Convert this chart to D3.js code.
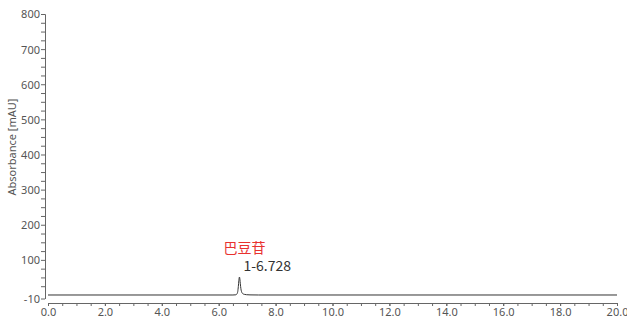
<!DOCTYPE html>
<meta charset="utf-8">
<style>
body { margin: 0; background: #fff; }
.tick text { font: 11px "Noto Sans", sans-serif; fill: #555; }
.axis path, .axis line { stroke: #666; }
.trace { fill: none; stroke: #333; stroke-width: 1px; }
</style>
<body>
<div id="main"></div>
<script src="https://d3js.org/d3.v7.min.js"></script>
<script>
// chromatogram points (time in min, absorbance in mAU)
var times = [0, 6.50, 6.60, 6.64, 6.67, 6.69, 6.71, 6.728, 6.745, 6.76, 6.78, 6.81, 6.85, 6.90, 6.98, 7.10, 7.40, 20];
var values = [0, 0, 0.5, 3, 10, 24, 42, 51, 45, 32, 18, 8, 3.5, 1.8, 0.8, 0.3, 0, 0];
var yTicks = [-10, 100, 200, 300, 400, 500, 600, 700, 800];
var xTicks = [0, 2, 4, 6, 8, 10, 12, 14, 16, 18, 20];
var peakTime = 6.728, peakHeight = 51;
var peakLabel = "1-6.728", compoundName = "巴豆苷";

var svg = d3.select("#main").append("svg")
	.attr("width", 627)
	.attr("height", 320);

var x = d3.scaleLinear().domain([0, 20]).range([48, 617]);
var y = d3.scaleLinear().domain([-10, 800]).range([298.5, 14]);

// y axis, minor ticks every 25
var yMinor = d3.range(25, 800, 25).filter(function(v) { return v % 100 !== 0; });
svg.append("g")
	.attr("class", "axis")
	.attr("transform", "translate(45,0)")
	.call(d3.axisLeft(y).tickValues(yMinor).tickSize(4).tickFormat("").tickSizeOuter(0));
svg.append("g")
	.attr("class", "axis")
	.attr("transform", "translate(45,0)")
	.call(d3.axisLeft(y).tickValues(yTicks).tickSize(4).tickPadding(1).tickSizeOuter(0)
		.tickFormat(function(d) { return String(d); }))
	.call(function(g) { g.selectAll(".tick text").attr("dy", "0.36em"); });

// x axis, minor ticks every 0.5
svg.append("g")
	.attr("class", "axis")
	.attr("transform", "translate(0,303)")
	.call(d3.axisBottom(x).tickValues(d3.range(0, 20.01, 0.5)).tickSize(3).tickFormat("").tickSizeOuter(0));
svg.append("g")
	.attr("class", "axis")
	.attr("transform", "translate(0,303)")
	.call(d3.axisBottom(x).tickValues(xTicks).tickSize(3).tickPadding(2).tickSizeOuter(0)
		.tickFormat(function(d) { return d.toFixed(1); }));

svg.append("text")
	.attr("transform", "translate(16,147) rotate(-90)")
	.attr("text-anchor", "middle")
	.style("font", "11px 'Noto Sans', sans-serif")
	.style("fill", "#555")
	.text("Absorbance [mAU]");

// trace
var pts = times.map(function(t, i) { return [t, values[i]]; });
svg.append("path")
	.datum(pts)
	.attr("class", "trace")
	.attr("d", d3.line()
		.x(function(d) { return x(d[0]); })
		.y(function(d) { return y(d[1]); })
		.curve(d3.curveMonotoneX));

// labels
svg.append("text")
	.attr("x", x(peakTime) + 4)
	.attr("y", y(peakHeight) - 6)
	.style("font", "14px 'Noto Sans CJK SC', sans-serif")
	.style("fill", "#333")
	.text(peakLabel);

svg.append("text")
	.attr("x", x(peakTime) - 16)
	.attr("y", y(peakHeight) - 24)
	.style("font", "14px 'Noto Sans CJK SC', sans-serif")
	.style("fill", "#e8322f")
	.text(compoundName);
</script>
</body>
